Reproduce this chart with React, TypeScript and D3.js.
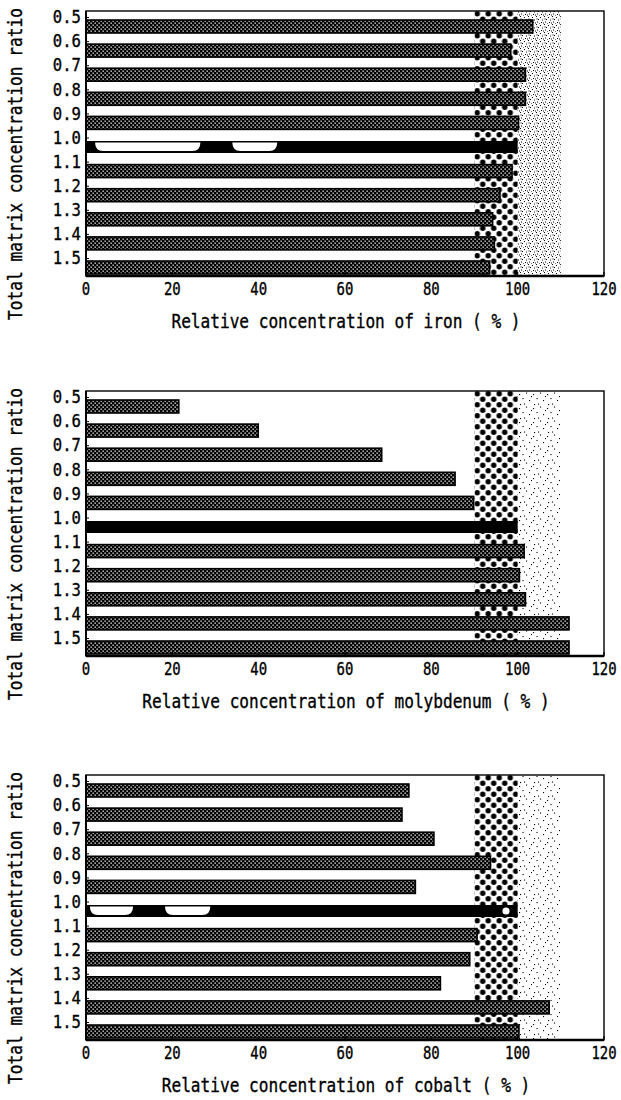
import React from "react";
import * as d3 from "d3";

// Matrix concentration ratios (y categories) and the measured relative concentrations (%)
const RATIO_LABELS = ["0.5", "0.6", "0.7", "0.8", "0.9", "1.0", "1.1", "1.2", "1.3", "1.4", "1.5"];
const IRON_VALUES = [103.5, 98.4, 101.8, 101.8, 100.2, 100, 98.7, 95.9, 94.2, 94.6, 93.5];
const MOLYBDENUM_VALUES = [21.5, 39.9, 68.5, 85.5, 89.8, 100, 101.5, 100.4, 101.8, 111.9, 111.9];
const COBALT_VALUES = [74.8, 73.2, 80.6, 93.7, 76.3, 100, 90.6, 88.9, 82.1, 107.3, 100.3];
const X_TICKS = [0, 20, 40, 60, 80, 100, 120];

// Reference bands: 90-100 % (dotted) and 100-110 % (stippled)
const INNER_BAND = [90, 100];
const OUTER_BAND = [100, 110];

// Light worn patches on the solid 1.0 reference bar (in % units)
const IRON_WORN = [[2.1, 26.5], [33.9, 44.3]];
const MOLYBDENUM_WORN: number[][] = [];
const COBALT_WORN = [[0.9, 10.9], [18.3, 28.8]];
const COBALT_HOLE = [97.3];

const W = 621;
const H = 1100;
const PLOT_LEFT = 86;
const PLOT_RIGHT = 604;
const PLOT_HEIGHT = 265;
const FONT = "'DejaVu Sans Mono', 'Liberation Mono', monospace";
const MONO_ADVANCE = 0.602;

// Monospace text sized by its horizontal advance, stretched vertically to a taller look
function MonoText({ x, y, text, height, adv, anchor = "middle", rotate = 0 }: any) {
  const size = adv / MONO_ADVANCE;
  const sy = height / size;
  return (
    <text
      x={0}
      y={0}
      fontFamily={FONT}
      fontSize={size}
      textAnchor={anchor}
      dominantBaseline="central"
      transform={`translate(${x},${y}) rotate(${rotate}) scale(1,${sy})`}
      fill="#000"
      stroke="#000"
      strokeWidth={0.3}
    >
      {text}
    </text>
  );
}

function Panel({ id, top, values, title, worn, holes, stipple }: any) {
  const x = d3.scaleLinear().domain([0, 120]).range([PLOT_LEFT, PLOT_RIGHT]);
  const y = d3.scalePoint<string>().domain(RATIO_LABELS).range([top + 15.5, top + 15.5 + 241]);
  const bottom = top + PLOT_HEIGHT;
  const barH = 13;
  const refH = 12;
  const yRef = y("1.0") as number;

  const wornPath = (a: number, b: number) => {
    const x0 = x(a), x1 = x(b);
    const t = yRef - refH / 2 + 1.6;
    const bt = yRef + refH / 2 - 2;
    const r = Math.min(8, (x1 - x0) / 3);
    return `M${x0},${t} L${x1},${t} Q${x1},${bt} ${x1 - r},${bt} L${x0 + r},${bt} Q${x0},${bt} ${x0},${t} Z`;
  };

  return (
    <g>
      <defs>
        <clipPath id={`clip-${id}`}>
          <rect x={PLOT_LEFT} y={top} width={PLOT_RIGHT - PLOT_LEFT} height={PLOT_HEIGHT} />
        </clipPath>
        <pattern id={`dots-${id}`} patternUnits="userSpaceOnUse" width={11} height={11}
          patternTransform={`translate(${x(INNER_BAND[0])},${top})`}>
          <circle cx={2.75} cy={2.75} r={2.7} fill="#000" />
          <circle cx={8.25} cy={8.25} r={2.7} fill="#000" />
        </pattern>
      </defs>

      <g clipPath={`url(#clip-${id})`}>
        <rect x={x(OUTER_BAND[0])} y={top} width={x(OUTER_BAND[1]) - x(OUTER_BAND[0])} height={PLOT_HEIGHT}
          fill={`url(#${stipple})`} />
        <rect x={x(INNER_BAND[0])} y={top} width={x(INNER_BAND[1]) - x(INNER_BAND[0])} height={PLOT_HEIGHT}
          fill={`url(#dots-${id})`} />

        {RATIO_LABELS.map((c, i) => {
          const yc = y(c) as number;
          if (c === "1.0") {
            return (
              <rect key={c} x={x(0)} y={yc - refH / 2} width={x(values[i]) - x(0)} height={refH} fill="#000" />
            );
          }
          return (
            <rect key={c} x={x(0)} y={yc - barH / 2} width={x(values[i]) - x(0)} height={barH}
              fill="url(#barFill)" stroke="#000" strokeWidth={1.6} />
          );
        })}
        {worn.map((w: number[], i: number) => (
          <path key={`w${i}`} d={wornPath(w[0], w[1])} fill="#fff" />
        ))}
        {holes.map((h: number, i: number) => (
          <circle key={`h${i}`} cx={x(h)} cy={yRef} r={3.6} fill="#fff" />
        ))}
      </g>

      {/* frame */}
      <rect x={PLOT_LEFT} y={top} width={PLOT_RIGHT - PLOT_LEFT} height={PLOT_HEIGHT} fill="none" stroke="#000" strokeWidth={1.4} />
      <line x1={PLOT_LEFT} x2={PLOT_LEFT} y1={top} y2={bottom} stroke="#000" strokeWidth={2} />
      <line x1={PLOT_LEFT} x2={PLOT_RIGHT} y1={bottom} y2={bottom} stroke="#000" strokeWidth={2.6} />

      {/* x ticks */}
      {X_TICKS.map((t) => (
        <g key={t}>
          <line x1={x(t)} x2={x(t)} y1={bottom} y2={bottom - 4} stroke="#000" strokeWidth={1.2} />
          <MonoText x={x(t)} y={bottom + 13} text={String(t)} height={18} adv={8.4} />
        </g>
      ))}

      {/* y ticks */}
      {RATIO_LABELS.map((c) => {
        const yl = (y(c) as number) - 9;
        return (
          <g key={c}>
            <line x1={PLOT_LEFT} x2={PLOT_LEFT + 3} y1={yl} y2={yl} stroke="#000" strokeWidth={1} />
            <MonoText x={81} y={yl} text={c} height={17} adv={9.4} anchor="end" />
          </g>
        );
      })}

      <MonoText x={346} y={bottom + 46} text={title} height={19} adv={9.7} />
      <MonoText x={16} y={top + 153} text="Total matrix concentration ratio" height={19} adv={9.75} rotate={-90} />
    </g>
  );
}

export default function App() {
  const densePts = [[0, 0], [4, 1], [2, 3], [6, 3.5], [1, 5.5], [5, 6], [3, 7.5], [7, 6.5], [0.5, 2.5]];
  const sparsePts = [[1, 2], [8, 0.5], [4.5, 6], [11, 8], [6, 11.5], [13, 4], [2, 12]];
  return (
    <svg width={W} height={H} style={{ position: "absolute", left: 0, top: 0, background: "#fff" }}>
      <defs>
        <pattern id="barFill" patternUnits="userSpaceOnUse" width={4} height={4}>
          <rect width={4} height={4} fill="#000" />
          <rect x={0.5} y={0.5} width={1.3} height={1.3} fill="#fff" />
          <rect x={2.5} y={2.5} width={1.3} height={1.3} fill="#fff" />
        </pattern>
        <pattern id="stippleDense" patternUnits="userSpaceOnUse" width={8} height={8}>
          {densePts.map((p, i) => (
            <rect key={i} x={p[0]} y={p[1]} width={1} height={1} fill="#000" />
          ))}
        </pattern>
        <pattern id="stippleSparse" patternUnits="userSpaceOnUse" width={14} height={14}>
          {sparsePts.map((p, i) => (
            <rect key={i} x={p[0]} y={p[1]} width={1.1} height={1.1} fill="#000" />
          ))}
        </pattern>
      </defs>
      <rect width={W} height={H} fill="#fff" />
      <Panel id="fe" top={11} values={IRON_VALUES} title="Relative concentration of iron ( % )"
        worn={IRON_WORN} holes={[]} stipple="stippleDense" />
      <Panel id="mo" top={391} values={MOLYBDENUM_VALUES} title="Relative concentration of molybdenum ( % )"
        worn={MOLYBDENUM_WORN} holes={[]} stipple="stippleSparse" />
      <Panel id="co" top={775} values={COBALT_VALUES} title="Relative concentration of cobalt ( % )"
        worn={COBALT_WORN} holes={COBALT_HOLE} stipple="stippleSparse" />
    </svg>
  );
}
